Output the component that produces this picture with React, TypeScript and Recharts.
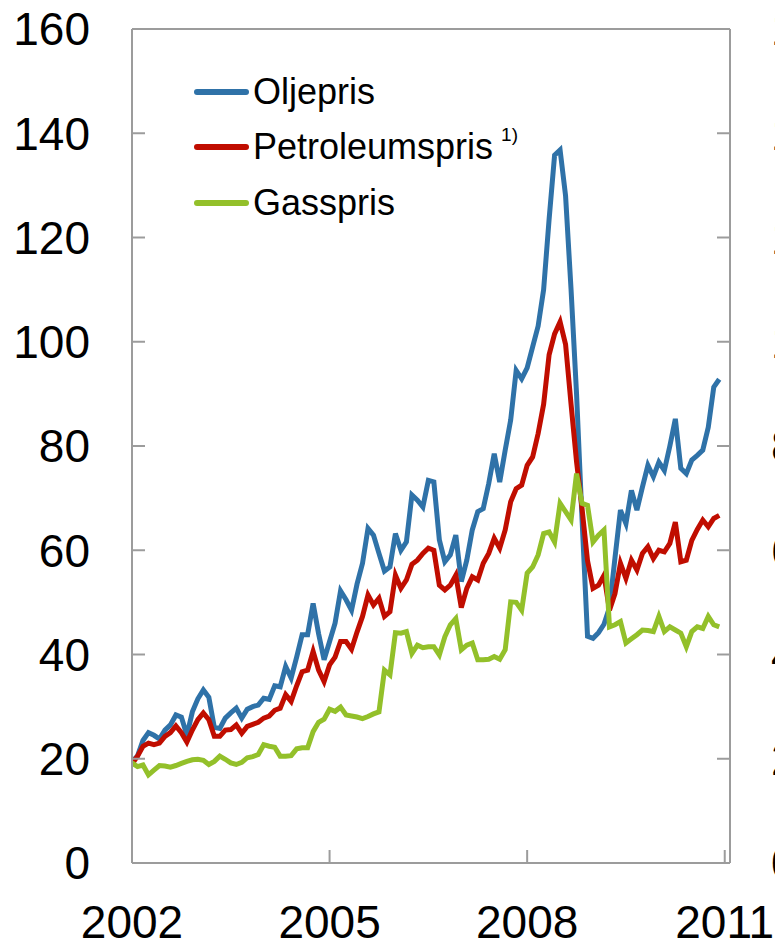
import { Legend, Line, LineChart, ReferenceLine, XAxis, YAxis } from "recharts";

const startYear = 2002;
const yearTicks = [2002, 2005, 2008, 2011];
const valueTicks = [0, 20, 40, 60, 80, 100, 120, 140, 160];
const seriesNames = ["Oljepris", "Petroleumspris", "Gasspris"];

// monthly values, Jan 2002 - Dec 2010
const oljepris = [
  19.5, 20.5, 23.5, 25, 24.5, 23.8, 25.5, 26.5, 28.4, 28,
  24.5, 29, 31.5, 33.2, 31.8, 26, 25.8, 27.8, 28.8, 29.7,
  27.8, 29.5, 30, 30.3, 31.6, 31.4, 34, 33.8, 37.7, 35.5,
  39.5, 43.8, 43.8, 49.8, 44, 39, 42.5, 46, 52.2, 50.5,
  48.5, 53.5, 57.5, 64.2, 62.9, 59.4, 56, 56.8, 63.2, 60,
  61.6, 70.6, 69.6, 68.3, 73.4, 73.1, 62, 57.8, 59.1, 62.9,
  54, 58.1, 63.9, 67.4, 68, 72.8, 78.5, 73.1, 79.2, 85,
  94.5, 92.9, 95, 99, 103, 110, 123.5, 135.8, 136.8, 128,
  110, 90, 66, 43.5, 43.1, 44.2, 45.8, 49, 58.5, 67.7,
  65.1, 71.5, 67.7, 72.1, 76.3, 74.1, 76.9, 75.3, 80, 85.2,
  75.7, 74.7, 77.3, 78.2, 79.2, 83.6, 91.3, 92.8,
];

const petroleumspris = [
  19, 20.5, 22.4, 23, 22.7, 23, 24.3, 25, 26.3, 25,
  23.2, 25.5, 27.5, 28.8, 27.5, 24.3, 24.3, 25.5, 25.6, 26.5,
  24.9, 26.2, 26.6, 27, 27.8, 28.2, 29.3, 29.7, 32.3, 31,
  34, 36.7, 37, 40.6, 37, 34.8, 38, 39.5, 42.5, 42.5,
  41, 44.3, 47.3, 51.4, 49.5, 50.8, 47.3, 48.2, 55.2, 52.7,
  54.3, 57.3, 58.1, 59.4, 60.4, 60, 53.3, 52.4, 53.3, 55.2,
  49, 52.7, 54.9, 54.3, 57.5, 59.4, 62.3, 60.4, 63.9, 69.3,
  71.8, 72.5, 76.3, 77.9, 82.4, 88, 97.5, 101.5, 103.8, 99.5,
  88, 77, 68, 58, 52.7, 53.3, 55.2, 48.5, 51.7, 57.5,
  54.6, 58.1, 56.2, 59.4, 60.7, 58.4, 60, 59.7, 61.3, 65.4,
  57.8, 58.1, 61.9, 64, 65.8, 64.5, 66.1, 66.7,
];

const gasspris = [
  19.2, 18.5, 18.8, 16.9, 17.8, 18.7, 18.6, 18.4, 18.7, 19.1,
  19.5, 19.8, 19.9, 19.7, 18.9, 19.5, 20.5, 19.9, 19.2, 18.9,
  19.3, 20.2, 20.4, 20.8, 22.7, 22.4, 22.2, 20.5, 20.5, 20.6,
  21.9, 22.1, 22.1, 25.2, 27, 27.6, 29.5, 29.1, 29.9, 28.4,
  28.2, 28, 27.7, 28.1, 28.6, 29, 37, 36.1, 44.2, 44.1,
  44.4, 40.2, 41.8, 41.3, 41.5, 41.5, 39.9, 43.4, 45.7, 46.9,
  40.9, 41.8, 42.2, 39, 39, 39.1, 39.6, 39.1, 40.9, 50.1,
  50, 48.5, 55.6, 56.8, 59.1, 63.2, 63.5, 61.6, 69, 67.4,
  65.8, 74.7, 69, 68.6, 61.6, 62.9, 63.9, 45.3, 45.7, 46.3,
  42.2, 43, 43.8, 44.7, 44.6, 44.4, 47.3, 44.4, 45.3, 44.7,
  44.1, 41.5, 44.4, 45.3, 45, 47.3, 45.7, 45.3,
];

const data = oljepris.map((v, i) => ({
  t: startYear + i / 12,
  olje: v,
  petro: petroleumspris[i],
  gass: gasspris[i],
}));

const FONT = '"Liberation Sans", Arial, sans-serif';
const AXIS = "#9c9c9c";
const PLOT_LEFT = 132;
const PLOT_RIGHT = 730;
const GAP = 42;
const TICK = 13;

// draws the left label, and the matching tick + label on the right frame
// (the right labels run off the edge of the picture, as in the original)
const ValueTick = (props: any) => {
  const { y, payload } = props;
  return (
    <g>
      <line x1={PLOT_LEFT} x2={PLOT_LEFT + TICK} y1={y} y2={y} stroke={AXIS} strokeWidth={2} />
      <line x1={PLOT_RIGHT} x2={PLOT_RIGHT - TICK} y1={y} y2={y} stroke={AXIS} strokeWidth={2} />
      <text x={PLOT_LEFT - GAP} y={y} dy="0.355em" textAnchor="end" fontSize={46} fontFamily={FONT} fill="#000">
        {payload.value}
      </text>
      <text x={PLOT_RIGHT + 41} y={y} dy="0.355em" textAnchor="start" fontSize={46} fontFamily={FONT} fill="#000">
        {payload.value}
      </text>
    </g>
  );
};

const BottomTick = (props: any) => {
  const { x, y, payload } = props;
  return (
    <g>
      <line x1={x} x2={x} y1={y - 42} y2={y - 42 - TICK} stroke={AXIS} strokeWidth={2} />
      <text x={x} y={y} dy="0.71em" textAnchor="middle" fontSize={46} fontFamily={FONT} fill="#000">
        {payload.value}
      </text>
    </g>
  );
};

const renderLegend = (props: any) => {
  const items = seriesNames
    .map((n) => props.payload.find((p: any) => p.value === n))
    .filter(Boolean);
  return (
    <div style={{ fontFamily: FONT, fontSize: 36, color: "#000" }}>
      {items.map((p: any) => (
        <div key={p.value} style={{ display: "flex", alignItems: "center", height: 55.5, whiteSpace: "nowrap" }}>
          <span
            style={{
              display: "inline-block",
              width: 55,
              height: 6,
              borderRadius: 3,
              background: p.color,
              marginRight: 4,
            }}
          />
          <span>{p.value}</span>
          {p.value === "Petroleumspris" && (
            <span style={{ fontSize: 19, position: "relative", top: -12, marginLeft: 8 }}>1)</span>
          )}
        </div>
      ))}
    </div>
  );
};

export default function App() {
  return (
    <div style={{ position: "absolute", left: 0, top: 0, width: 775, height: 941, overflow: "hidden", background: "#fff" }}>
      <LineChart width={775} height={941} data={data} margin={{ top: 29, right: 0, bottom: 0, left: 0 }}>
        <XAxis
          dataKey="t"
          type="number"
          domain={[2002, 2011.08]}
          ticks={yearTicks}
          allowDataOverflow
          height={78}
          tickSize={0}
          tickMargin={42}
          tick={<BottomTick />}
          axisLine={{ stroke: AXIS, strokeWidth: 2 }}
          interval={0}
        />
        <YAxis
          yAxisId="left"
          domain={[0, 160]}
          ticks={valueTicks}
          width={PLOT_LEFT}
          tickSize={0}
          tickMargin={GAP}
          tick={<ValueTick />}
          axisLine={{ stroke: AXIS, strokeWidth: 2 }}
          interval={0}
        />
        <YAxis
          yAxisId="right"
          orientation="right"
          domain={[0, 160]}
          width={775 - PLOT_RIGHT}
          tick={false}
          tickLine={false}
          axisLine={{ stroke: AXIS, strokeWidth: 2 }}
        />
        <ReferenceLine yAxisId="left" y={160} stroke={AXIS} strokeWidth={2} />
        <Legend
          layout="vertical"
          align="center"
          verticalAlign="middle"
          content={renderLegend}
          wrapperStyle={{ left: 194, top: 64, width: 400 }}
        />
        <Line yAxisId="left" type="linear" dataKey="olje" name="Oljepris" stroke="#2F72A8" strokeWidth={5} dot={false} isAnimationActive={false} />
        <Line yAxisId="left" type="linear" dataKey="petro" name="Petroleumspris" stroke="#C00D00" strokeWidth={5} dot={false} isAnimationActive={false} />
        <Line yAxisId="left" type="linear" dataKey="gass" name="Gasspris" stroke="#93C02A" strokeWidth={5} dot={false} isAnimationActive={false} />
      </LineChart>
    </div>
  );
}
